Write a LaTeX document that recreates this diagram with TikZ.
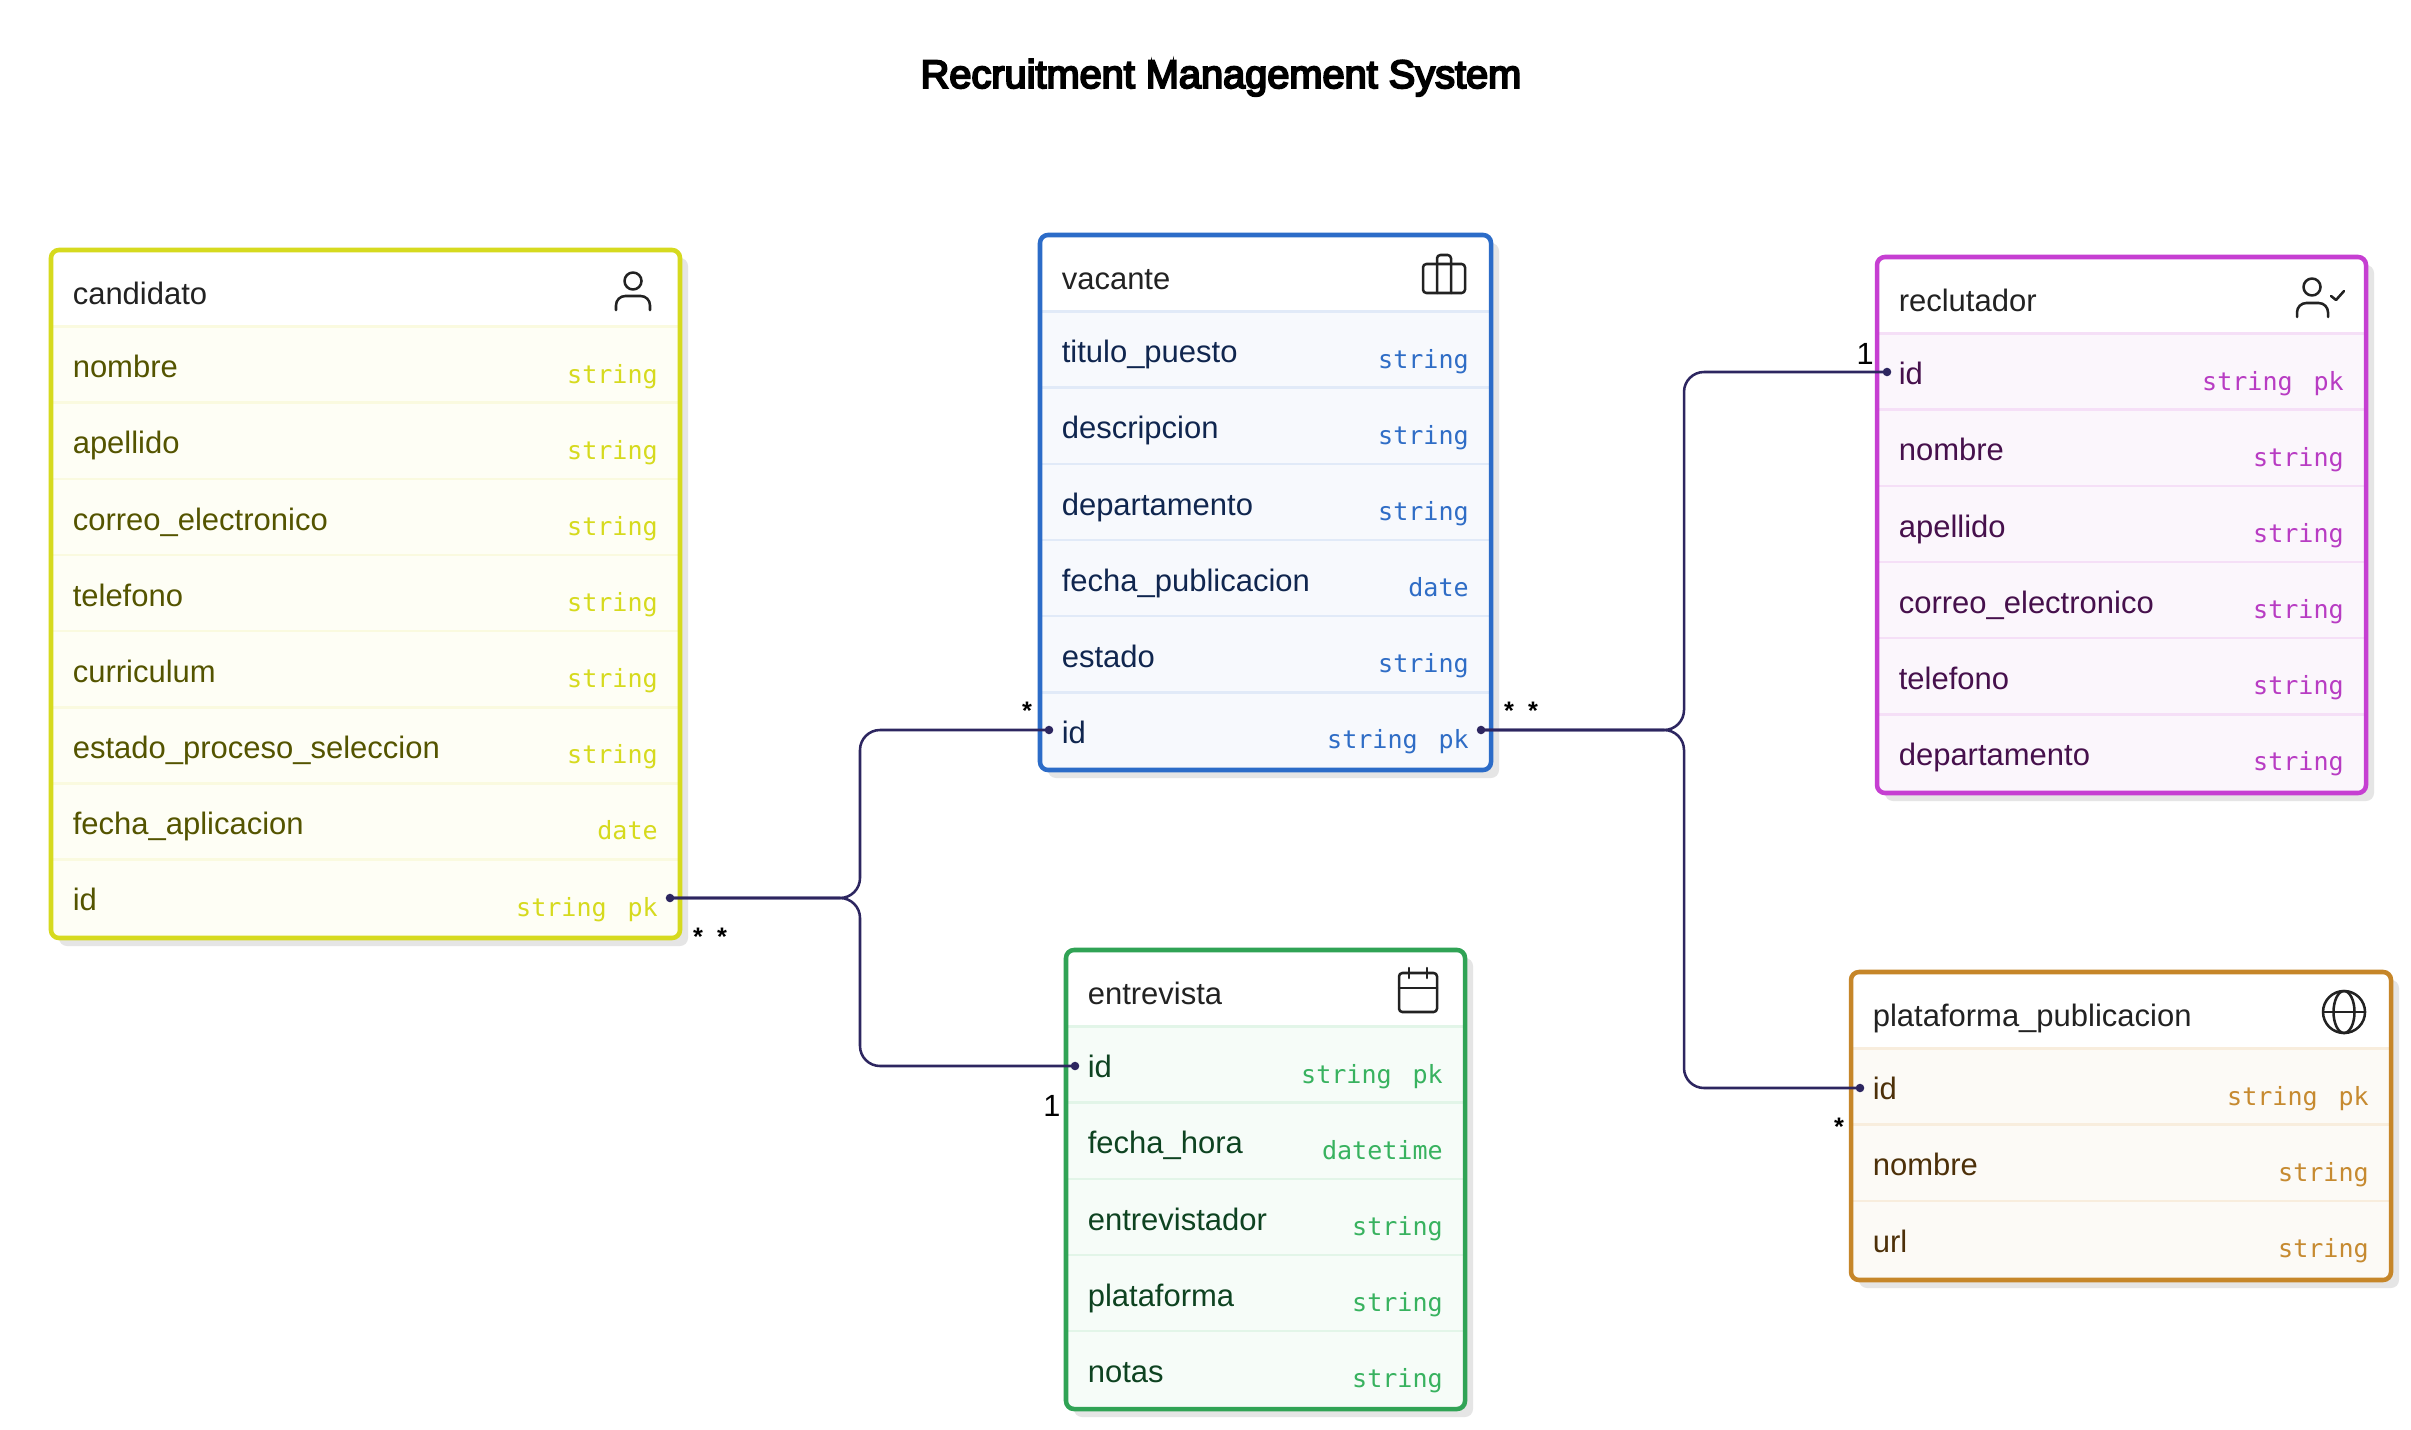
\documentclass[tikz,border=0pt]{standalone}
\usepackage{fontspec}
\setmainfont{Liberation Sans}
\newfontfamily\typefont{DejaVu Sans Mono}
\newfontfamily\titlefont[FakeBold=5]{Liberation Sans}
\usetikzlibrary{calc}
\definecolor{cBorder}{HTML}{D6DA1E}\definecolor{cTint}{HTML}{FEFEF5}\definecolor{cDiv}{HTML}{FAFADF}\definecolor{cText}{HTML}{545400}\definecolor{cType}{HTML}{D6DA1E}
\definecolor{vBorder}{HTML}{2C6CC8}\definecolor{vTint}{HTML}{F7F9FD}\definecolor{vDiv}{HTML}{E1EAF8}\definecolor{vText}{HTML}{10264F}\definecolor{vType}{HTML}{2F6DC6}
\definecolor{rBorder}{HTML}{C63FD2}\definecolor{rTint}{HTML}{FBF6FC}\definecolor{rDiv}{HTML}{F5DFF7}\definecolor{rText}{HTML}{46104C}\definecolor{rType}{HTML}{B83CC3}
\definecolor{pBorder}{HTML}{C68629}\definecolor{pTint}{HTML}{FCFAF6}\definecolor{pDiv}{HTML}{F8EDDD}\definecolor{pText}{HTML}{4D3009}\definecolor{pType}{HTML}{C68A30}
\definecolor{eBorder}{HTML}{30A355}\definecolor{eTint}{HTML}{F6FCF8}\definecolor{eDiv}{HTML}{E2F5E8}\definecolor{eText}{HTML}{0E4321}\definecolor{eType}{HTML}{38B25F}
\definecolor{linkc}{HTML}{2D2660}
\definecolor{iconc}{HTML}{222222}
\definecolor{shadowc}{HTML}{E5E5E5}
\tikzset{
  tablebox/.style={rounded corners=6pt,inner sep=0pt,outer sep=0pt},
  nametext/.style={inner sep=0pt,anchor=base west,font=\fontsize{23.25}{28}\selectfont},
  typetext/.style={inner sep=0pt,anchor=base east,font=\typefont\fontsize{18.8}{24}\selectfont},
  conn/.style={draw=linkc,line width=1.9pt,rounded corners=15pt},
  portdot/.style={circle,fill=linkc,inner sep=0pt,minimum size=6.4pt},
  star/.style={inner sep=0pt,font=\bfseries\fontsize{19}{20}\selectfont},
  one/.style={inner sep=0pt,font=\fontsize{23}{26}\selectfont},
  icon/.style={draw=iconc,line width=1.9pt,line cap=round,line join=round},
}
% #1 name, #2 colour prefix, #3 left, #4 top, #5 right, #6 bottom, #7 title, #8 rows
\newcommand{\ertable}[8]{
  \fill[shadowc,rounded corners=6pt] (#3+8,#4+8) rectangle (#5+8,#6+8);
  \node[tablebox,fill=#2Tint,minimum width={(#5-#3)*0.75pt},minimum height={(#6-#4)*0.75pt}] (#1) at ({(#3+#5)/2},{(#4+#6)/2}) {};
  \begin{scope}
    \clip[rounded corners=6pt] (#3,#4) rectangle (#5,#6);
    \fill[white] (#3,#4) rectangle (#5,#4+76.5);
    \foreach \n/\t/\k [count=\i from 0] in {#8}{
      \draw[#2Div,line width=1.9pt] (#3,{#4+76.5+\i*76.15}) -- (#5,{#4+76.5+\i*76.15});
    }
  \end{scope}
  \draw[#2Border,line width=3.4pt,rounded corners=6pt] (#1.south west) rectangle (#1.north east);
  \node[nametext,text=iconc] (#1-title) at (#3+21.5,#4+54) {#7};
  \foreach \n/\t/\k [count=\i from 0] in {#8}{
    \node[nametext,text=#2Text] (#1-name-\i) at (#3+21.5,{#4+76.5+\i*76.15+51.2}) {\n};
    \ifnum\k=1
      \node[typetext,text=#2Type] (#1-pk-\i) at (#5-22,{#4+76.5+\i*76.15+56.5}) {pk};
      \node[typetext,text=#2Type] (#1-type-\i) at (#5-73,{#4+76.5+\i*76.15+56.5}) {\t};
    \else
      \node[typetext,text=#2Type] (#1-type-\i) at (#5-22,{#4+76.5+\i*76.15+56.5}) {\t};
    \fi
  }
}
\begin{document}
\begin{tikzpicture}[x=0.75pt,y=-0.75pt]
\useasboundingbox (0,0) rectangle (2411,1430);
\fill[white] (0,0) rectangle (2411,1430);
\node[inner sep=0pt,anchor=base,font=\titlefont\fontsize{29.8}{36}\selectfont] (title) at (1221,88) {Recruitment Management System};

\ertable{candidato}{c}{51}{250}{680}{938}{candidato}{nombre/string/0,apellido/string/0,correo\_electronico/string/0,telefono/string/0,curriculum/string/0,estado\_proceso\_seleccion/string/0,fecha\_aplicacion/date/0,id/string/1}
\ertable{vacante}{v}{1040}{235}{1491}{770}{vacante}{titulo\_puesto/string/0,descripcion/string/0,departamento/string/0,fecha\_publicacion/date/0,estado/string/0,id/string/1}
\ertable{reclutador}{r}{1877}{257}{2366}{793}{reclutador}{id/string/1,nombre/string/0,apellido/string/0,correo\_electronico/string/0,telefono/string/0,departamento/string/0}
\ertable{plataforma}{p}{1851}{972}{2391}{1280}{plataforma\_publicacion}{id/string/1,nombre/string/0,url/string/0}
\ertable{entrevista}{e}{1066}{950}{1465}{1409}{entrevista}{id/string/1,fecha\_hora/datetime/0,entrevistador/string/0,plataforma/string/0,notas/string/0}

% icons
\draw[icon] (633,281) circle[radius=8.5];
\draw[icon,rounded corners=7pt] (616,310) -- (616,296) -- (650,296) -- (650,310);
\draw[icon,rounded corners=2.5pt] (1423,264) rectangle (1465,293);
\draw[icon,rounded corners=2.5pt] (1437,293) -- (1437,255) -- (1451,255) -- (1451,293);
\draw[icon] (2312,287) circle[radius=8.5];
\draw[icon,rounded corners=7pt] (2297,317) -- (2297,303) -- (2328,303) -- (2328,317);
\draw[icon] (2331,296) -- (2336,300) -- (2344,291);
\draw[icon] (2344,1012) circle[radius=21];
\draw[icon] (2344,1012) ellipse[x radius=10.5,y radius=21];
\draw[icon] (2323,1012) -- (2365,1012);
\draw[icon,rounded corners=2.5pt] (1399,973) rectangle (1437,1012);
\draw[icon] (1399,988) -- (1437,988);
\draw[icon] (1409,968) -- (1409,978);
\draw[icon] (1427,968) -- (1427,978);

% ports
\node[portdot] (dotC) at (670,898) {};
\node[portdot] (dotVL) at (1049,730) {};
\node[portdot] (dotVR) at (1481,730) {};
\node[portdot] (dotE) at (1075,1066) {};
\node[portdot] (dotR) at (1887,372) {};
\node[portdot] (dotP) at (1860,1088) {};
\coordinate (busL) at (860,900);
\coordinate (busR) at (1684,730);

% connectors
\draw[conn] (dotC.center) -- (busL |- dotC.center) -- (busL |- dotVL.center) -- (dotVL.center);
\draw[conn] (dotC.center) -- (busL |- dotC.center) -- (busL |- dotE.center) -- (dotE.center);
\draw[conn] (dotVR.center) -- (busR |- dotVR.center) -- (busR |- dotR.center) -- (dotR.center);
\draw[conn] (dotVR.center) -- (busR |- dotVR.center) -- (busR |- dotP.center) -- (dotP.center);

% multiplicities
\node[star] (mC1) at (698,937) {*};
\node[star] (mC2) at (722,937) {*};
\node[star] (mVL) at (1027,711) {*};
\node[star] (mVR1) at (1509,711) {*};
\node[star] (mVR2) at (1533,711) {*};
\node[star] (mP) at (1839,1127) {*};
\node[one] (mR) at (1865,354) {1};
\node[one] (mE) at (1052,1106) {1};
\end{tikzpicture}
\end{document}
